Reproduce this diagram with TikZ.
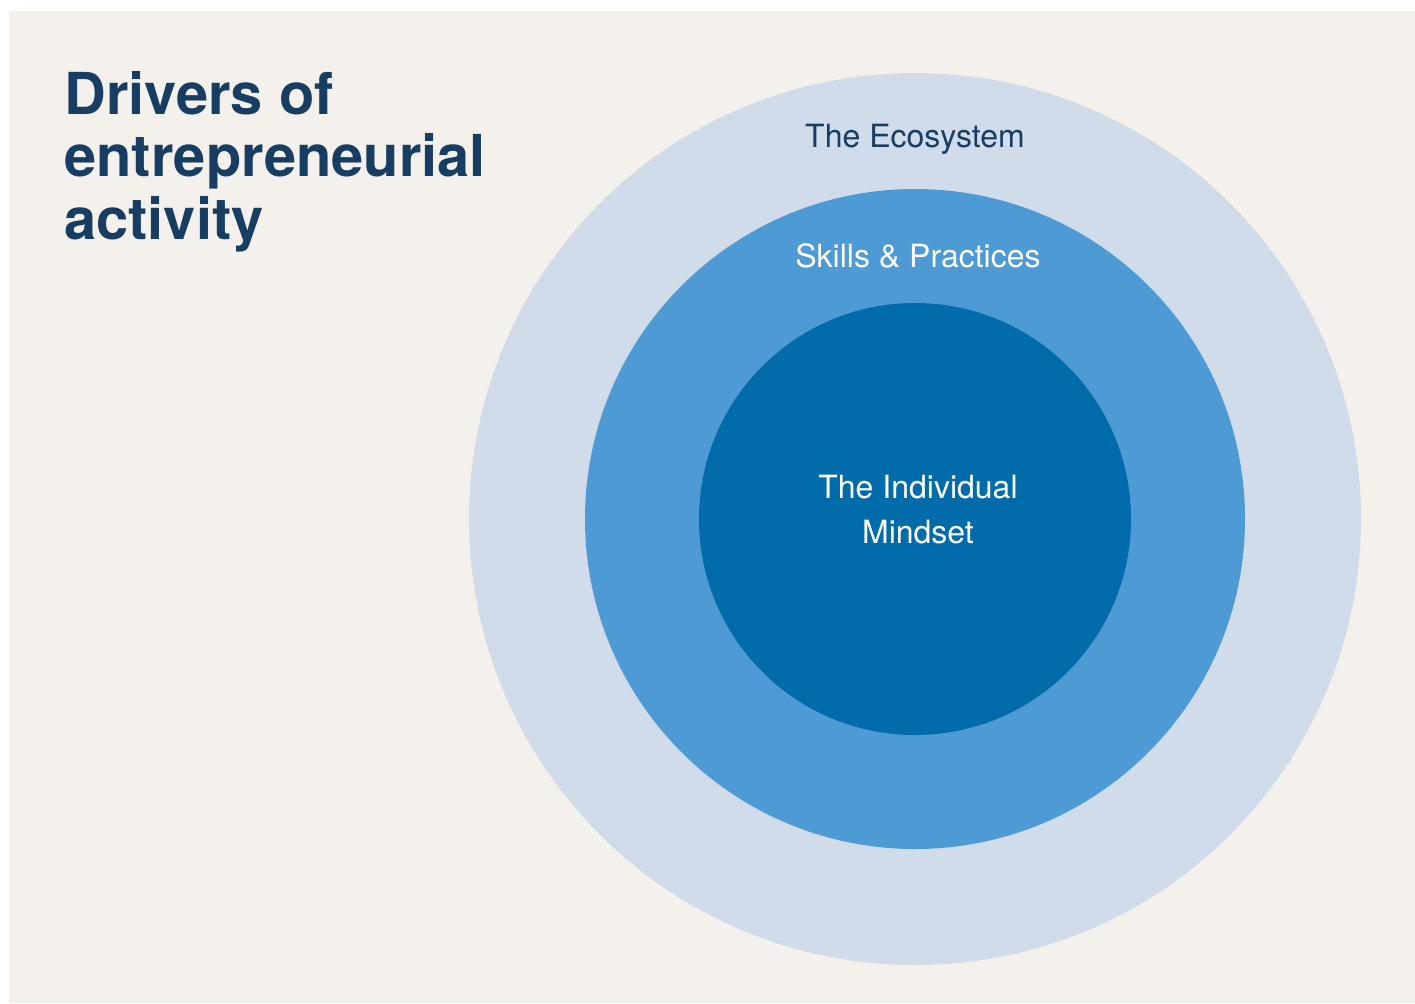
\documentclass[tikz,border=0pt]{standalone}
\usepackage{fontspec}
\setmainfont{TeX Gyre Heros}
\usetikzlibrary{positioning}

\definecolor{paper}{HTML}{F4F1EC}
\definecolor{ecoblue}{HTML}{D0DCE9}
\definecolor{skillblue}{HTML}{4E9AD4}
\definecolor{mindblue}{HTML}{026BAA}
\definecolor{navy}{HTML}{173D63}

\begin{document}
\begin{tikzpicture}[x=0.5pt, y=-0.5pt]
	% Define styles
	\tikzset{
		ring/.style={circle, inner sep=0pt, outer sep=0pt},
		label/.style={anchor=base, inner sep=0pt, font=\fontsize{16}{22.5}\selectfont}
	}

	% Page and background
	\useasboundingbox (0,0) rectangle (1415,1003);
	\fill[white] (0,0) rectangle (1415,1003);
	\fill[paper] (9,11) rectangle (1415,1003);

	% Title
	\node[anchor=north west, inner sep=0pt, align=left, text=navy,
		font=\fontsize{28.9}{31.25}\selectfont\bfseries] (title) at (64,71)
		{Drivers of\\entrepreneurial\\activity};

	% Circles
	\node[ring, fill=ecoblue, minimum size=446pt] (eco) at (915,519) {};
	\node[ring, fill=skillblue, minimum size=330pt] (skill) at (915,519) {};
	\node[ring, fill=mindblue, minimum size=216pt] (mind) at (915,519) {};

	% Labels
	\node[label, text=navy] (ecotext) at (915,147) {The Ecosystem};
	\node[label, text=white] (skilltext) at (918,267) {Skills \& Practices};
	\node[label, text=white] (mindtext) at (918,498) {The Individual};
	\node[label, text=white] (mindtext2) at (918,543) {Mindset};
\end{tikzpicture}
\end{document}
